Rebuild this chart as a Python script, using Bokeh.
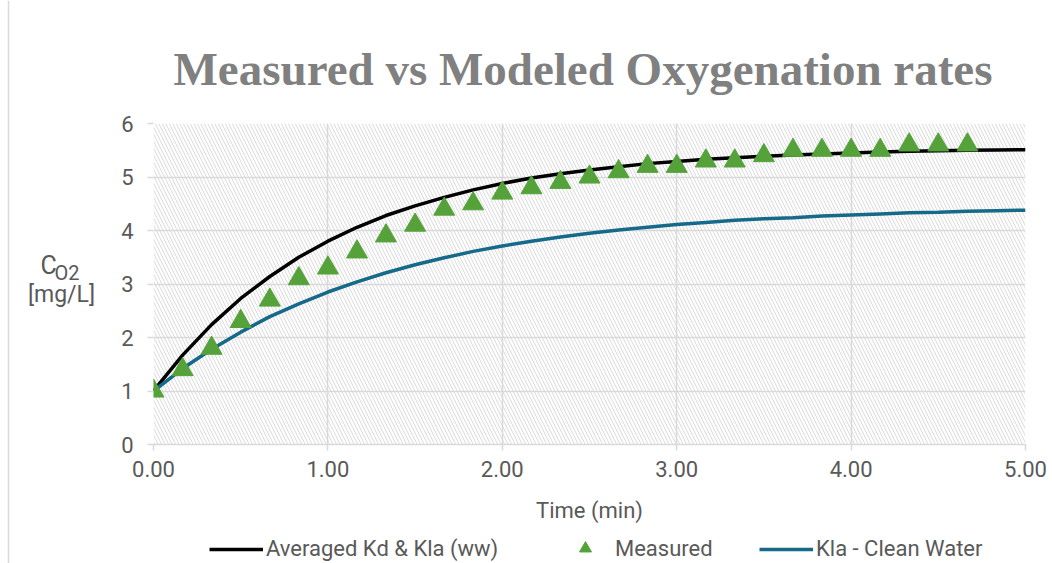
from bokeh.plotting import figure
from bokeh.layouts import row, column
from bokeh.models import (Range1d, FixedTicker, NumeralTickFormatter, BoxAnnotation,
                          Legend, LegendItem, ColumnDataSource, Label, Span)
from bokeh.embed import file_html
from bokeh.resources import INLINE

# ---- data ----
t_model = [0.000, 0.167, 0.333, 0.500, 0.667, 0.833, 1.000, 1.167, 1.333, 1.500,
           1.667, 1.833, 2.000, 2.167, 2.333, 2.500, 2.667, 2.833, 3.000, 3.167,
           3.333, 3.500, 3.667, 3.833, 4.000, 4.167, 4.333, 4.500, 4.667, 4.833, 5.000]
averaged_ww = [1.00, 1.67, 2.24, 2.73, 3.14, 3.50, 3.80, 4.06, 4.28, 4.46,
               4.62, 4.76, 4.88, 4.98, 5.06, 5.13, 5.19, 5.25, 5.29, 5.33,
               5.36, 5.39, 5.41, 5.43, 5.45, 5.465, 5.48, 5.49, 5.50, 5.505, 5.51]
kla_clean = [1.00, 1.42, 1.78, 2.10, 2.39, 2.63, 2.85, 3.04, 3.21, 3.36,
             3.49, 3.61, 3.71, 3.80, 3.88, 3.95, 4.01, 4.06, 4.11, 4.15,
             4.19, 4.22, 4.24, 4.27, 4.29, 4.31, 4.33, 4.34, 4.36, 4.37, 4.38]
t_measured = [0.000, 0.167, 0.333, 0.500, 0.667, 0.833, 1.000, 1.167, 1.333, 1.500,
              1.667, 1.833, 2.000, 2.167, 2.333, 2.500, 2.667, 2.833, 3.000, 3.167,
              3.333, 3.500, 3.667, 3.833, 4.000, 4.167, 4.333, 4.500, 4.667]
measured = [1.0, 1.4, 1.8, 2.3, 2.7, 3.1, 3.3, 3.6, 3.9, 4.1,
            4.4, 4.5, 4.7, 4.8, 4.9, 5.0, 5.1, 5.2, 5.2, 5.3,
            5.3, 5.4, 5.5, 5.5, 5.5, 5.5, 5.6, 5.6, 5.6]
x_ticks = [0, 1, 2, 3, 4, 5]
y_ticks = [0, 1, 2, 3, 4, 5, 6]
series_names = ["Averaged Kd & Kla (ww)", "Measured", "Kla - Clean Water"]
title_text = "Measured vs Modeled Oxygenation rates"
y_label_main = "C"
y_label_sub = "O2"
y_label_unit = "[mg/L]"
x_label = "Time (min)"

GRID = "#d9d9d9"
TXT = "#595959"
BLUE = "#156a8a"
GREEN = "#55a23b"
SANS = "Roboto"

LEFT_W = 105          # strip holding the y-axis title
MAIN_H = 532          # chart figure height
TOTAL_W, TOTAL_H = 1052, 563
FRAME_LEFT = 153      # absolute left edge of the plot area

# ---------------- left strip: y-axis title + chart-area border ----------------
lf = figure(width=LEFT_W, height=TOTAL_H, x_range=Range1d(0, LEFT_W), y_range=Range1d(TOTAL_H, 0),
            x_axis_type=None, y_axis_type=None, min_border=0,
            output_backend="svg", toolbar_location=None)
lf.outline_line_color = None
lf.grid.visible = False
lf.add_layout(Span(location=8, dimension="height", line_color=GRID, line_width=1.5))
lf.add_layout(Label(x=40, y=265, text=y_label_main, text_font=SANS, text_font_size="25px",
                    text_color=TXT, text_align="left", text_baseline="alphabetic"))
lf.add_layout(Label(x=54, y=272, text=y_label_sub, text_font=SANS, text_font_size="20px",
                    text_color=TXT, text_align="left", text_baseline="alphabetic"))
lf.add_layout(Label(x=61, y=294, text=y_label_unit, text_font=SANS, text_font_size="23px",
                    text_color=TXT, text_align="center", text_baseline="alphabetic"))

# ---------------- main chart ----------------
p = figure(frame_width=872, frame_height=321,
           min_border_left=FRAME_LEFT - LEFT_W, min_border_right=27, min_border_top=123,
           min_border_bottom=MAIN_H - 123 - 321,
           x_range=Range1d(0, 5), y_range=Range1d(0, 6),
           output_backend="svg", toolbar_location=None,
           background_fill_color="white", border_fill_color="white")
p.outline_line_color = None

p.title.text = title_text
p.title.text_font = "Liberation Serif"
p.title.text_font_style = "bold"
p.title.text_font_size = "47px"
p.title.text_color = "#808080"
p.title.align = "left"
p.title.offset = 20
p.title.standoff = 58

p.add_layout(BoxAnnotation(fill_color=None, fill_alpha=0, line_color=None,
                           hatch_pattern="\\", hatch_color="#d9d9d9",
                           hatch_scale=7, hatch_weight=1, level="underlay"))

p.xaxis.ticker = FixedTicker(ticks=x_ticks)
p.yaxis.ticker = FixedTicker(ticks=y_ticks)
p.xaxis.formatter = NumeralTickFormatter(format="0.00")
for ax in (p.xaxis[0], p.yaxis[0]):
    ax.axis_line_color = GRID
    ax.axis_line_width = 1.5
    ax.major_tick_line_color = GRID
    ax.major_tick_line_width = 1.5
    ax.major_tick_out = 6
    ax.major_tick_in = 0
    ax.minor_tick_line_color = None
    ax.major_label_text_font = SANS
    ax.major_label_text_font_size = "22px"
    ax.major_label_text_color = TXT
    ax.axis_label_text_font = SANS
    ax.axis_label_text_font_size = "22px"
    ax.axis_label_text_font_style = "normal"
    ax.axis_label_text_color = TXT
p.yaxis.axis_line_color = None
p.yaxis.major_label_standoff = 14
p.xaxis.major_label_standoff = 10
p.xaxis.axis_label = x_label
p.xaxis.axis_label_standoff = 18

p.grid.grid_line_color = GRID
p.grid.grid_line_width = 1.5

src_m = ColumnDataSource(dict(t=t_model, ww=averaged_ww, cw=kla_clean))
src_p = ColumnDataSource(dict(t=t_measured, c=measured))

p.line("t", "ww", source=src_m, line_color="black", line_width=3.5)
p.line("t", "cw", source=src_m, line_color=BLUE, line_width=3.5)
p.scatter("t", "c", source=src_p, marker="triangle", size=21,
          fill_color=GREEN, line_color=GREEN, line_width=1)

# ---------------- legend strip (its frame lines up with the chart's frame) ----------------
LEG_H = TOTAL_H - MAIN_H
lg = figure(width=TOTAL_W - LEFT_W, height=LEG_H,
            x_range=Range1d(-20, -19), y_range=Range1d(-20, -19),   # series kept out of view
            x_axis_type=None, y_axis_type=None, min_border=0,
            output_backend="svg", toolbar_location=None)
lg.outline_line_color = None
lg.grid.visible = False
k_ww = lg.line("t", "ww", source=src_m, line_color="black", line_width=3.5)
k_ms = lg.scatter("t", "c", source=src_p, marker="triangle", size=21,
                  fill_color=GREEN, line_color=GREEN)
k_cw = lg.line("t", "cw", source=src_m, line_color=BLUE, line_width=3.5)

def add_leg(renderer, name, x, y, gh):
    leg = Legend(items=[LegendItem(label=name, renderers=[renderer])],
                 location=(x, y), orientation="horizontal",
                 border_line_color=None, background_fill_alpha=0,
                 padding=0, margin=0, spacing=0,
                 glyph_width=54, glyph_height=gh, label_height=22, label_standoff=3,
                 label_text_font=SANS, label_text_font_size="22px",
                 label_text_color=TXT)
    lg.add_layout(leg)

add_leg(k_ww, series_names[0], 209 - FRAME_LEFT, 2, 22)
add_leg(k_ms, series_names[1], 558 - FRAME_LEFT, 0, 30)
add_leg(k_cw, series_names[2], 759 - FRAME_LEFT, 2, 22)

layout = row(lf, column(p, lg, spacing=0), spacing=0)

open("out.html", "w").write(file_html(layout, INLINE))
